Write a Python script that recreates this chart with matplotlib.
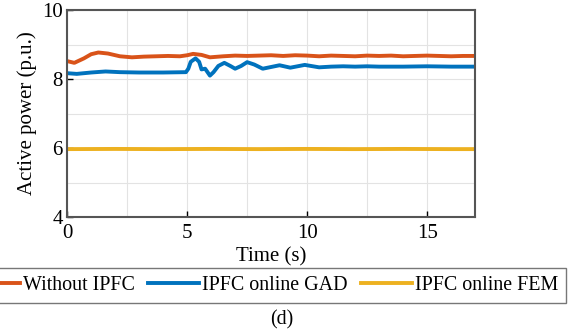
import matplotlib.pyplot as plt
from matplotlib.ticker import MultipleLocator

plt.rcParams['font.family'] = ['Liberation Serif', 'DejaVu Serif']

# Without IPFC
t_without = [0, 0.3, 0.7, 1.0, 1.3, 1.7, 2.2, 2.7, 3.2, 3.7, 4.2, 4.7, 5.0, 5.25, 5.6, 5.95,
             6.5, 7.0, 7.5, 8.0, 8.5, 9.0, 9.5, 10, 10.5, 11, 11.5, 12, 12.5, 13, 13.5, 14,
             14.5, 15, 15.5, 16, 16.5, 17]
p_without = [8.52, 8.47, 8.6, 8.72, 8.77, 8.74, 8.66, 8.63, 8.65, 8.66, 8.67, 8.66, 8.69, 8.73,
             8.7, 8.63, 8.66, 8.68, 8.67, 8.68, 8.69, 8.67, 8.69, 8.68, 8.66, 8.68, 8.67, 8.66,
             8.68, 8.67, 8.68, 8.66, 8.67, 8.68, 8.67, 8.66, 8.67, 8.67]

# IPFC online GAD
t_gad = [0, 0.4, 1.0, 1.6, 2.2, 3.0, 4.0, 4.95, 5.05, 5.15, 5.35, 5.5, 5.6, 5.75, 5.85, 5.95,
         6.1, 6.3, 6.55, 6.8, 7.0, 7.25, 7.5, 7.8, 8.15, 8.5, 8.85, 9.3, 9.9, 10.5, 11, 11.5,
         12, 12.5, 13, 14, 15, 16, 17]
p_gad = [8.17, 8.15, 8.19, 8.22, 8.2, 8.19, 8.19, 8.2, 8.3, 8.5, 8.6, 8.5, 8.28, 8.3, 8.2,
         8.1, 8.2, 8.38, 8.47, 8.38, 8.3, 8.38, 8.49, 8.42, 8.3, 8.35, 8.4, 8.33, 8.41, 8.34,
         8.36, 8.37, 8.36, 8.37, 8.36, 8.36, 8.37, 8.36, 8.36]

# IPFC online FEM
t_fem = [0, 2, 4, 6, 8, 10, 12, 14, 16, 17]
p_fem = [5.97, 5.975, 5.97, 5.975, 5.97, 5.975, 5.97, 5.975, 5.97, 5.97]

fig = plt.figure(figsize=(5.69, 3.35), dpi=100)
ax = fig.add_axes([0.118, 0.352, 0.717, 0.618])

ax.plot(t_without, p_without, color='#D95319', lw=2.8, label='Without IPFC')
ax.plot(t_gad, p_gad, color='#0072BD', lw=2.8, label='IPFC online GAD')
ax.plot(t_fem, p_fem, color='#EDB120', lw=2.8, label='IPFC online FEM')

ax.set_xlim(0, 17)
ax.set_ylim(4, 10)
ax.xaxis.set_major_locator(MultipleLocator(5))
ax.xaxis.set_minor_locator(MultipleLocator(2.5))
ax.yaxis.set_major_locator(MultipleLocator(2))
ax.yaxis.set_minor_locator(MultipleLocator(1))
ax.grid(which='both', color='#e3e3e3', lw=0.8)
ax.set_axisbelow(True)
ax.tick_params(which='major', direction='in', length=4, width=1, labelsize=15)
ax.tick_params(axis='x', pad=5)
ax.tick_params(axis='y', pad=3)
ax.tick_params(which='minor', length=0)
for s in ax.spines.values():
    s.set_color('#555555')
    s.set_linewidth(1.5)

ax.set_xlabel('Time (s)', fontsize=15, labelpad=3)
ax.set_ylabel('Active power (p.u.)', fontsize=15, labelpad=4)

# legend is wider than the figure in the original, left end is cut off
fig.legend(loc='center right', bbox_to_anchor=(566 / 569, 0.149), ncol=3, fontsize=14.4,
           frameon=True, fancybox=False, edgecolor='#555555', handlelength=2.55,
           handletextpad=0.12, columnspacing=0.7, borderpad=0.4, borderaxespad=0)
fig.text(0.495, 0.045, '(d)', ha='center', va='center', fontsize=14.4)

fig.savefig('out.png', dpi=100)
